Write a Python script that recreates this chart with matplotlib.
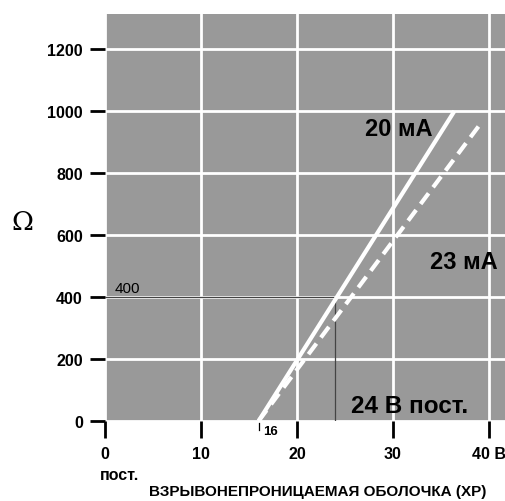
import matplotlib
matplotlib.use('Agg')
import matplotlib.pyplot as plt
import matplotlib.transforms as mtransforms

plt.rcParams['font.family'] = ['Liberation Sans', 'DejaVu Sans']

# supply voltage (V) vs max loop resistance (Ohm)
volts_20ma = [16, 36.4]
ohms_20ma = [0, 1000]
volts_23ma = [16, 38.9]
ohms_23ma = [0, 950]

xticks = [0, 10, 20, 30, 40]
xticklabels = ['0', '10', '20', '30', '40 В']
yticks = [0, 200, 400, 600, 800, 1000, 1200]
yticklabels = ['0', '200', '400', '600', '800', '1000', '1200']

v_ref = 24
r_ref = 400
v_min = 16

fig = plt.figure(figsize=(5.06, 5.02), dpi=100)
ax = fig.add_axes([105/506, 80/502, 401/506, 407/502])
ax.set_facecolor('#999999')
ax.set_xlim(0, 41.77)
ax.set_ylim(0, 1313)

for s in ax.spines.values():
    s.set_visible(False)

ax.grid(True, color='white', linewidth=2)
ax.set_axisbelow(True)

ax.set_xticks(xticks)
ax.set_xticklabels(xticklabels, fontweight='bold', fontsize=11.5)
ax.set_yticks(yticks)
ax.set_yticklabels(yticklabels, fontweight='bold', fontsize=11.5)
ax.tick_params(axis='y', length=11, width=2, direction='out', pad=5, color='black')
ax.tick_params(axis='x', length=12, width=2, direction='out', pad=6, color='black')

# guide lines to the 24 V / 400 Ohm point
ax.plot([0, v_ref], [r_ref, r_ref], color='#444444', linewidth=0.9, zorder=3)
ax.plot([v_ref, v_ref], [0, r_ref], color='#444444', linewidth=0.9, zorder=3)

ax.plot(volts_20ma, ohms_20ma, color='white', linewidth=3, solid_capstyle='butt', zorder=4)
ax.plot(volts_23ma, ohms_23ma, color='white', linewidth=3, dashes=(3.2, 1.8), zorder=4)

ax.text(30.6, 943, '20 мА', fontsize=17, fontweight='bold', ha='center', va='center')
ax.text(37.35, 513, '23 мА', fontsize=17, fontweight='bold', ha='center', va='center')
ax.text(31.7, 50, '24 В пост.', fontsize=17.5, fontweight='bold', ha='center', va='center')
ax.text(1.0, 408, '400', fontsize=11, ha='left', va='bottom')

# small marker at 16 V
trans = mtransforms.blended_transform_factory(ax.transData, ax.transAxes)
ax.plot([v_min, v_min], [-0.005, -0.022], color='black', linewidth=0.9,
        transform=trans, clip_on=False)
ax.text(v_min + 0.45, -0.025, '16', fontsize=9.5, fontweight='bold',
        ha='left', va='center', transform=trans)

fig.text(22/506, 1 - 223/502, 'Ω', family='DejaVu Serif', fontsize=19,
         ha='center', va='center')
fig.text(100/506, 1 - 475/502, 'пост.', fontsize=11.5, fontweight='bold',
         ha='left', va='center')
fig.text(318/506, 1 - 492/502, 'ВЗРЫВОНЕПРОНИЦАЕМАЯ ОБОЛОЧКА (XP)', fontsize=11,
         fontweight='bold', ha='center', va='center')

plt.savefig('out.png', dpi=100)
plt.close()
